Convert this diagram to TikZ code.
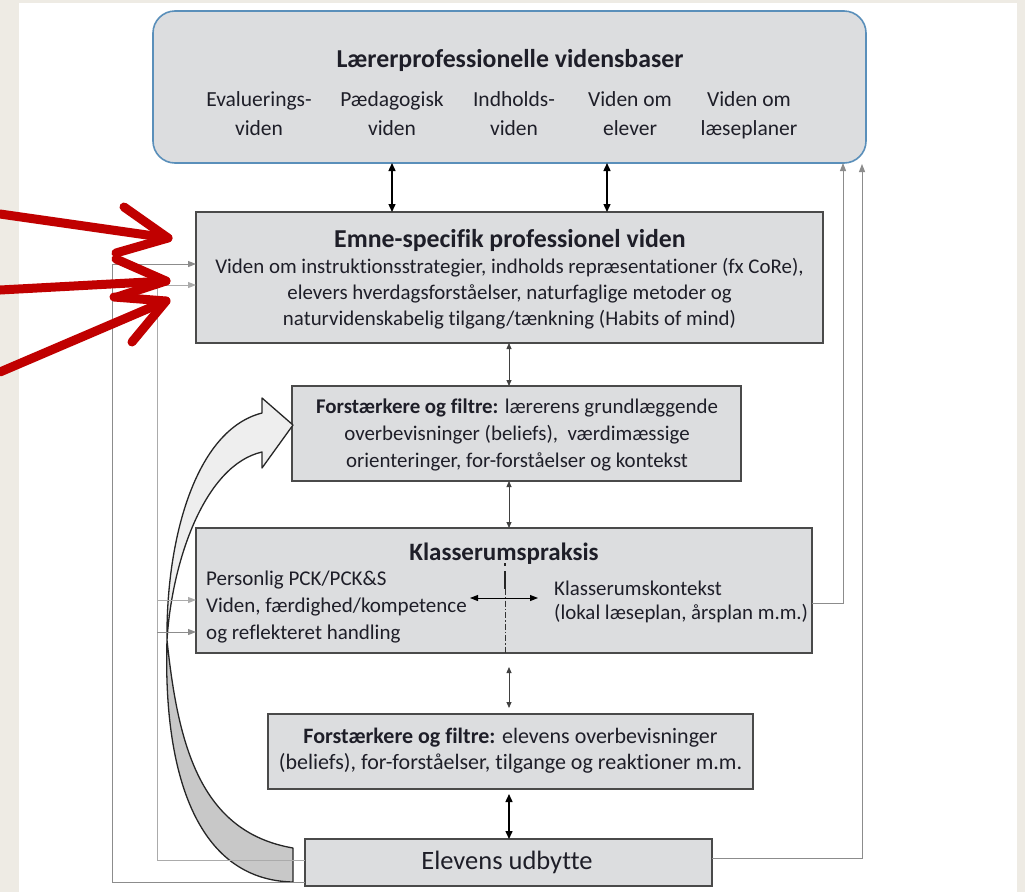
\documentclass[tikz,border=0pt]{standalone}
\usepackage{fontspec}
\setmainfont{Carlito}[Ligatures={NoCommon}]
\usetikzlibrary{arrows.meta}
\definecolor{pagebg}{HTML}{EEEBE4}
\definecolor{boxfill}{HTML}{DCDDDF}
\definecolor{boxline}{HTML}{4A4A4A}
\definecolor{topline}{HTML}{5A8FBA}
\definecolor{txtc}{HTML}{1E1E28}
\definecolor{redmark}{HTML}{C00000}
\definecolor{fbline}{HTML}{8C8C8C}
\definecolor{fblight}{HTML}{ABABAB}
\definecolor{bandlight}{HTML}{EEEEEE}
\definecolor{banddark}{HTML}{C8C8C8}
\tikzset{
  box/.style={draw=boxline, fill=boxfill, line width=2.2pt, inner sep=0pt, outer sep=0pt},
  topbox/.style={draw=topline, fill=boxfill, line width=1.6pt, rounded corners=22pt, inner sep=0pt, outer sep=0pt},
  txt/.style={anchor=mid, inner sep=0pt, yshift=-3pt, text=txtc, font=\fontsize{20.9}{24}\selectfont},
  txtl/.style={txt, anchor=mid west},
  ttl/.style={anchor=mid, inner sep=0pt, yshift=-5pt, text=txtc, font=\bfseries\fontsize{25.8}{30}\selectfont},
  dbl/.style={{Triangle[length=8pt,width=7pt]}-{Triangle[length=8pt,width=7pt]}, line width=1.4pt, black},
  dblthin/.style={{Triangle[length=6pt,width=5pt]}-{Triangle[length=6pt,width=5pt]}, line width=0.8pt, black!75},
  fb/.style={-{Triangle[length=8pt,width=6pt]}, line width=1pt, fbline},
  fbl/.style={-{Triangle[length=8pt,width=6pt]}, line width=1pt, fblight},
  redarrow/.style={redmark, line width=9pt, line cap=round, line join=round}
}
\begin{document}
\begin{tikzpicture}[x=1pt,y=-1pt]
\fill[pagebg] (0,0) rectangle (1025,892);
\fill[white] (19,3) rectangle (1017,892);
\useasboundingbox (0,0) rectangle (1025,892);

% boxes
\node[topbox, minimum width=713pt, minimum height=152pt] (top) at (509.5,87) {};
\node[box, minimum width=627pt, minimum height=131pt] (emne) at (509.5,277.5) {};
\node[box, minimum width=449pt, minimum height=95pt] (fa) at (516.5,433.5) {};
\node[box, minimum width=616pt, minimum height=125pt] (klass) at (504,590.5) {};
\node[box, minimum width=485pt, minimum height=75pt] (fb) at (510.5,751.5) {};
\node[box, minimum width=407pt, minimum height=47pt] (elev) at (508.5,862.5) {};

% top box text
\node[ttl] (toptitle) at (510,60) {Lærerprofessionelle vidensbaser};
\node[txt, font=\fontsize{21.5}{25}\selectfont] (c1a) at (259,101) {Evaluerings-};
\node[txt, font=\fontsize{21.5}{25}\selectfont] (c1b) at (259,130) {viden};
\node[txt, font=\fontsize{21.5}{25}\selectfont] (c2a) at (392,101) {Pædagogisk};
\node[txt, font=\fontsize{21.5}{25}\selectfont] (c2b) at (392,130) {viden};
\node[txt, font=\fontsize{21.5}{25}\selectfont] (c3a) at (514,101) {Indholds-};
\node[txt, font=\fontsize{21.5}{25}\selectfont] (c3b) at (514,130) {viden};
\node[txt, font=\fontsize{21.5}{25}\selectfont] (c4a) at (630,101) {Viden om};
\node[txt, font=\fontsize{21.5}{25}\selectfont] (c4b) at (630,130) {elever};
\node[txt, font=\fontsize{21.5}{25}\selectfont] (c5a) at (749,101) {Viden om};
\node[txt, font=\fontsize{21.5}{25}\selectfont] (c5b) at (749,130) {læseplaner};

% emne text
\node[ttl] (etitle) at (510,240) {Emne-specifik professionel viden};
\node[txt] (e1) at (509.5,268) {Viden om instruktionsstrategier, indholds repræsentationer (fx CoRe),};
\node[txt] (e2) at (509.5,294) {elevers hverdagsforståelser, naturfaglige metoder og};
\node[txt] (e3) at (509.5,320) {naturvidenskabelig tilgang/tænkning (Habits of mind)};

% forst 1
\node[txt] (fa1) at (517,408) {\textbf{Forstærkere og filtre:} lærerens grundlæggende};
\node[txt] (fa2) at (517,435) {overbevisninger (beliefs), \ værdimæssige};
\node[txt] (fa3) at (517,462) {orienteringer, for-forståelser og kontekst};

% klasserum
\node[ttl, font=\bfseries\fontsize{25}{29}\selectfont] (ktitle) at (504,553) {Klasserumspraksis};
\node[txtl, font=\fontsize{21}{25}\selectfont] (k1) at (206,580) {Personlig PCK/PCK\&S};
\node[txtl, font=\fontsize{21}{25}\selectfont] (k2) at (206,607) {Viden, færdighed/kompetence};
\node[txtl, font=\fontsize{21}{25}\selectfont] (k3) at (206,634) {og reflekteret handling};
\node[txtl] (k4) at (554,590) {Klasserumskontekst};
\node[txtl] (k5) at (554,614) {(lokal læseplan, årsplan m.m.)};

% forst 2
\node[txt, font=\fontsize{22}{26}\selectfont] (fb1) at (510.5,738) {\textbf{Forstærkere og filtre:} elevens overbevisninger};
\node[txt, font=\fontsize{22}{26}\selectfont] (fb2) at (510.5,764) {(beliefs), for-forståelser, tilgange og reaktioner m.m.};

% elevens udbytte
\node[txt, font=\fontsize{26.5}{30}\selectfont] (etxt) at (507,864) {Elevens udbytte};

% inner marks of klasserum
\coordinate (kdiv) at (505,653);
\draw[line width=2.4pt, black!85] (505,563) -- (505,566);
\draw[line width=2.4pt, black!85] (505,571) -- (505,589);
\draw[line width=1pt, black!80, dash pattern=on 6pt off 2pt on 1.5pt off 2pt] (505,589) -- (kdiv);
\coordinate (kl) at (470,598);
\coordinate (kr) at (538,598);
\draw[{Triangle[length=8pt,width=6pt]}-{Triangle[length=8pt,width=6pt]}, line width=1pt, black] (kl) -- (kr);

% vertical connectors
\draw[dbl] (top.south -| 392,0) -- (emne.north -| 392,0);
\draw[dbl] (top.south -| 607,0) -- (emne.north -| 607,0);
\draw[dblthin] (emne.south -| 509,0) -- (fa.north -| 509,0);
\draw[dblthin] (fa.south -| 509,0) -- (klass.north -| 509,0);
\draw[dblthin, shorten <=14pt, shorten >=6pt] (klass.south -| 509,0) -- (fb.north -| 509,0);
\draw[dbl, shorten <=5pt] (fb.south -| 509,0) -- (elev.north -| 509,0);

% curved big arrow
\def\bandpath{(293,848) .. controls (200,832) and (178,745) .. (167,640)
  .. controls (166,540) and (195,430) .. (262,413) -- (262,398) -- (293,425) -- (262,468) -- (262,452)
  .. controls (205,465) and (172,560) .. (167,640)
  .. controls (163,770) and (195,880) .. (293,882) -- cycle}
\fill[bandlight] \bandpath;
\begin{scope}
\clip (0,640) rectangle (400,892);
\fill[banddark] \bandpath;
\end{scope}
\draw[line width=1.3pt, black!85, line join=round] \bandpath;

% feedback lines on the left
\coordinate (l1b) at (112,882);
\coordinate (l2b) at (157,860);
\draw[fb] (elev.west |- l1b) -- (l1b) -- (112,264) -- (emne.west |- 0,264);
\draw[fbl] (elev.west |- l2b) -- (l2b) -- (157,285) -- (emne.west |- 0,285);
\draw[fbl] (157,600) -- (klass.west |- 0,600);
\draw[fb] (157,632) -- (klass.west |- 0,632);

% feedback lines on the right
\coordinate (r1) at (843,603);
\coordinate (r2) at (862,858);
\draw[fb] (klass.east |- r1) -- (r1) -- (r1 |- top.south);
\draw[fb] (elev.east |- r2) -- (r2) -- (862,164);

% red marker arrows
\draw[redarrow] (0,214) -- (168,238);
\draw[redarrow] (124,207) -- (168,238) -- (116,253);
\draw[redarrow] (0,290) -- (166,281);
\draw[redarrow] (116,259) -- (166,281) -- (117,297);
\draw[redarrow] (0,372) -- (166,301);
\draw[redarrow] (114,297) -- (166,301) -- (132,342);
\end{tikzpicture}
\end{document}
